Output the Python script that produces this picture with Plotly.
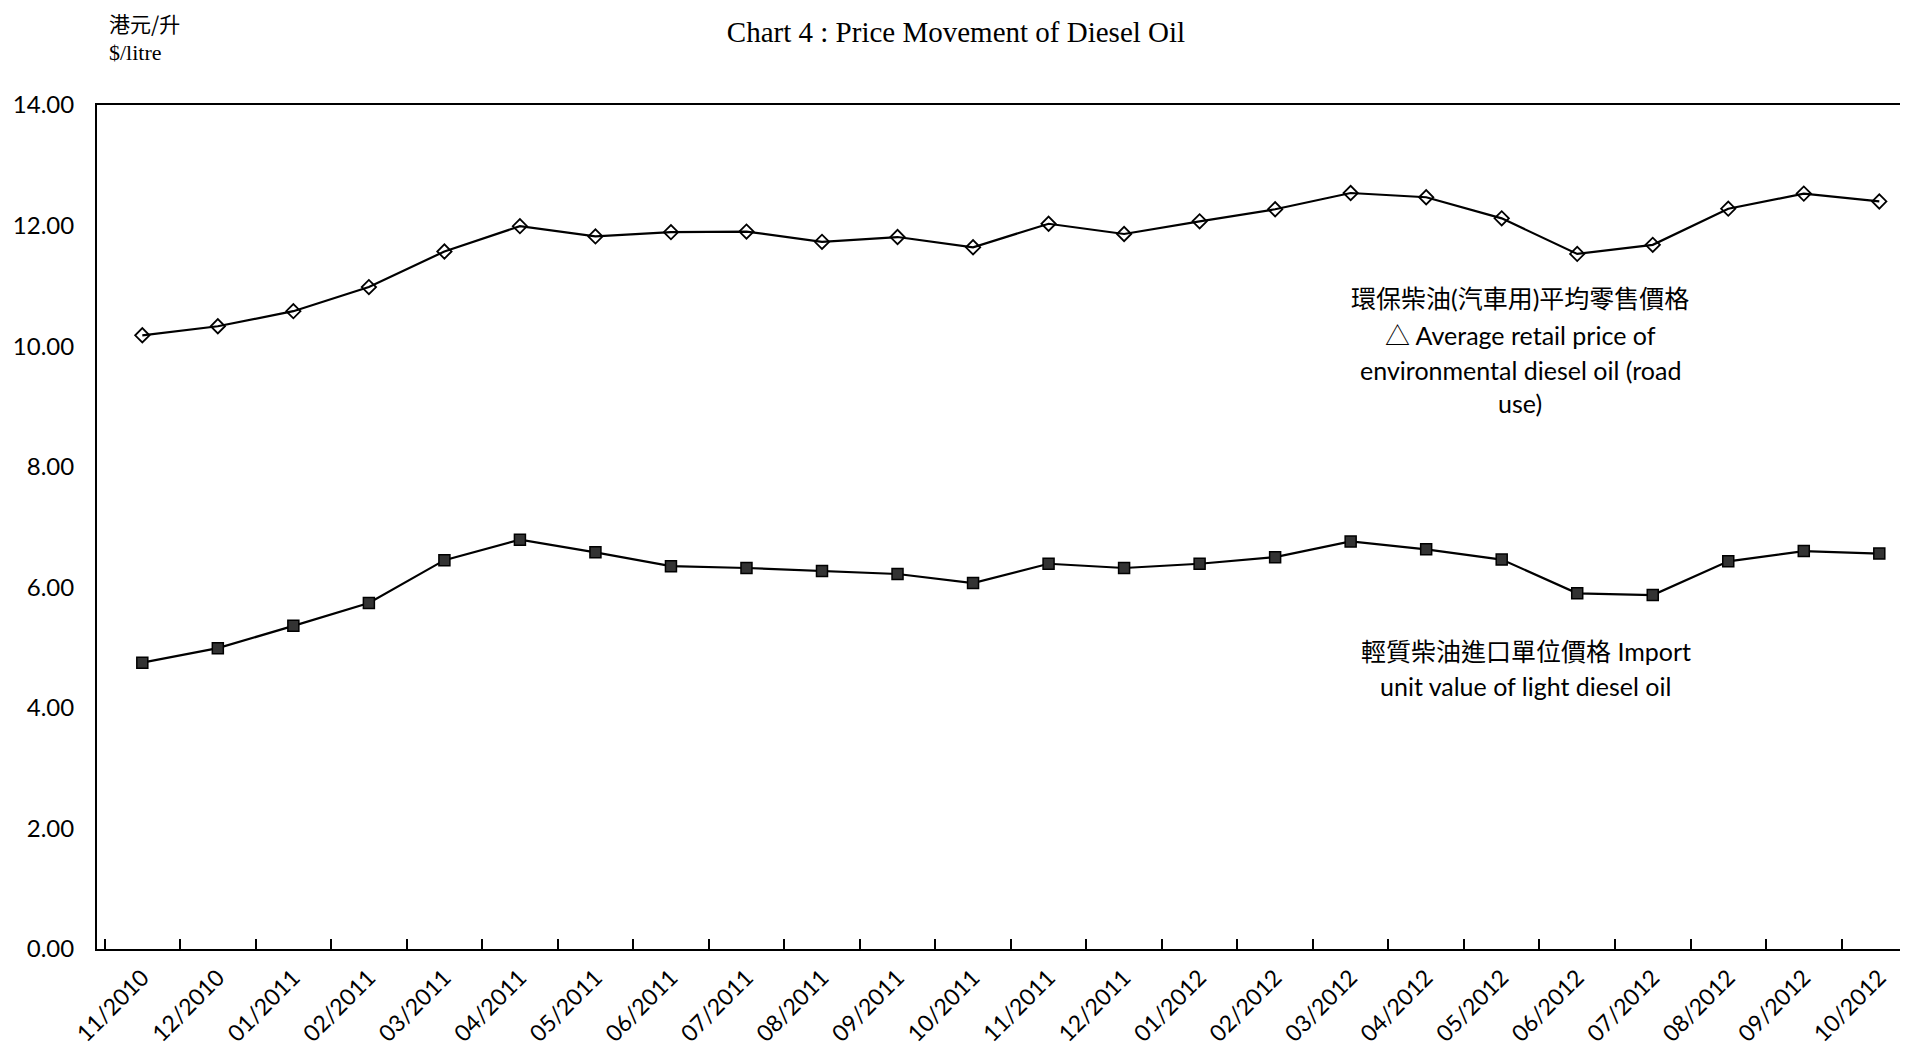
import plotly.graph_objects as go

months = ["11/2010", "12/2010", "01/2011", "02/2011", "03/2011", "04/2011", "05/2011",
          "06/2011", "07/2011", "08/2011", "09/2011", "10/2011", "11/2011", "12/2011",
          "01/2012", "02/2012", "03/2012", "04/2012", "05/2012", "06/2012", "07/2012",
          "08/2012", "09/2012", "10/2012"]

retail_price = [10.18, 10.33, 10.58, 10.98, 11.57, 11.99, 11.82, 11.89, 11.90, 11.73,
                11.81, 11.64, 12.03, 11.86, 12.07, 12.27, 12.54, 12.47, 12.12, 11.53,
                11.68, 12.28, 12.53, 12.40]

import_value = [4.75, 4.99, 5.36, 5.74, 6.45, 6.79, 6.58, 6.35, 6.32, 6.27,
                6.22, 6.07, 6.39, 6.32, 6.39, 6.50, 6.76, 6.63, 6.46, 5.90,
                5.87, 6.43, 6.60, 6.56]

y_ticks = [0, 2, 4, 6, 8, 10, 12, 14]

retail_label = ["環保柴油(汽車用)平均零售價格", "△ Average retail price of",
                "environmental diesel oil (road", "use)"]
import_label = ["輕質柴油進口單位價格 Import", "unit value of light diesel oil"]

sans = "Lato, 'Noto Sans CJK TC', sans-serif"
serif = "'Liberation Serif', 'Noto Sans CJK TC', serif"

W, H = 1900, 1043
ML, MT, MB = 89, 97, 102
PH = H - MT - MB
BOTTOM = H - MB

fig = go.Figure()
fig.add_trace(go.Scatter(
    x=months, y=retail_price, mode="lines+markers", name="retail",
    line=dict(color="black", width=2.2),
    marker=dict(symbol="diamond-open", size=11, color="black", line=dict(width=1.8, color="black")),
))
fig.add_trace(go.Scatter(
    x=months, y=import_value, mode="lines+markers", name="import",
    line=dict(color="black", width=2.2),
    marker=dict(symbol="square", size=11, color="#333333", line=dict(width=1.5, color="black")),
))

annotations = []
for i, t in enumerate(retail_label):
    annotations.append(dict(text=t, xref="paper", yref="paper", x=0.786, y=[0.771, 0.727, 0.686, 0.647][i],
                            showarrow=False, xanchor="center", yanchor="middle",
                            font=dict(family=sans, size=25, color="black")))
for i, t in enumerate(import_label):
    annotations.append(dict(text=t, xref="paper", yref="paper", x=0.789, y=[0.353, 0.312][i],
                            showarrow=False, xanchor="center", yanchor="middle",
                            font=dict(family=sans, size=25, color="black")))
annotations.append(dict(text="港元/升", xref="paper", yref="paper", x=10 / (W - ML), y=(BOTTOM - 15) / PH,
                        showarrow=False, xanchor="left", yanchor="middle",
                        font=dict(family="'Noto Sans CJK TC', serif", size=21, color="black")))
annotations.append(dict(text="$/litre", xref="paper", yref="paper", x=10 / (W - ML), y=(BOTTOM - 44) / PH,
                        showarrow=False, xanchor="left", yanchor="middle",
                        font=dict(family=serif, size=22, color="black")))

fig.update_layout(
    width=W, height=H,
    paper_bgcolor="white", plot_bgcolor="white",
    margin=dict(l=ML, r=0, t=MT, b=MB, autoexpand=False),
    showlegend=False,
    title=dict(text="Chart 4 : Price Movement of Diesel Oil", x=948 / W, xanchor="center",
               y=1 - 24 / H, yanchor="middle",
               font=dict(family=serif, size=29, color="black")),
    annotations=annotations,
    xaxis=dict(
        type="category", range=[-0.6, 23.38], tickangle=-45, automargin=False,
        showline=True, linecolor="black", linewidth=2, mirror=True,
        ticks="inside", tickson="boundaries", ticklen=10, tickcolor="black", tickwidth=2,
        showgrid=False, zeroline=False, ticklabelstandoff=4,
        tickfont=dict(family=sans, size=23, color="black"),
    ),
    yaxis=dict(
        range=[0, 14], tickvals=y_ticks, tickformat=".2f", automargin=False,
        showline=True, linecolor="black", linewidth=2,
        ticks="", showgrid=False, zeroline=False, ticklabelstandoff=16,
        tickfont=dict(family=sans, size=24, color="black"),
    ),
)

fig.write_html("out.html")
